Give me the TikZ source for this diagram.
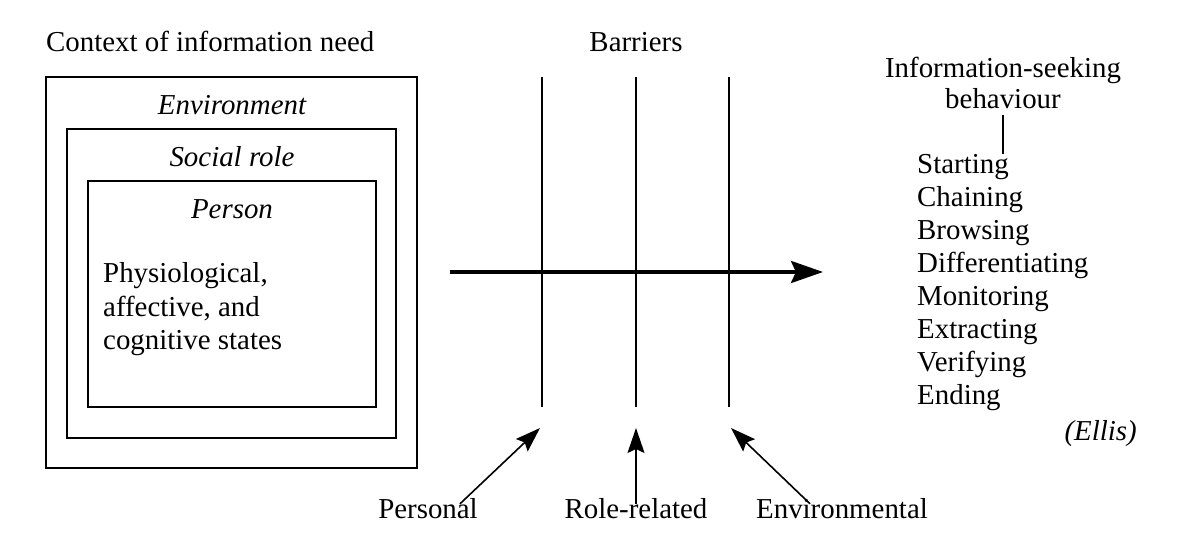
\documentclass[tikz,border=0pt]{standalone}
\usepackage{fontspec}
\setmainfont{Liberation Serif}
\usetikzlibrary{arrows.meta}
\newcommand{\figfont}{\rmfamily\fontsize{29}{34}\selectfont}
\tikzstyle{frame} = [draw=black, line width=1.6bp]
\tikzstyle{txt} = [inner sep=0pt, font=\figfont, text height=20bp, text depth=6bp]
\tikzstyle{boxtitle} = [txt, font=\figfont\itshape]
\tikzstyle{barrier} = [line width=1.6bp]
\tikzstyle{arrow} = [line width=1.6bp, -{Stealth[length=25bp, width=17bp, inset=4bp]}]
\tikzstyle{bigarrow} = [line width=3.6bp, -{Stealth[length=32bp, width=22bp, inset=5bp]}]

\begin{document}
\begin{tikzpicture}[x=1bp, y=-1bp]
        \useasboundingbox (0,0) rectangle (1183,558);

        % context of information need
        \node (context) [txt, anchor=west] at (46,45) {Context of information need};
        \draw [frame] (46,77) rectangle (417,468);
        \draw [frame] (67,129) rectangle (396,438);
        \draw [frame] (88,181) rectangle (376,407);
        \node (environment) [boxtitle] at (232,108) {Environment};
        \node (socialrole) [boxtitle] at (232,160) {Social role};
        \node (person) [boxtitle] at (232,212) {Person};
        \node (states) [inner sep=0pt, font=\figfont, anchor=north west, align=left] at (103,262)
              {Physiological,\\affective, and\\cognitive states};

        % barriers
        \node (barriers) [txt] at (636,45) {Barriers};
        \coordinate (b1top) at (542,77);  \coordinate (b1bot) at (542,407);
        \coordinate (b2top) at (636,77);  \coordinate (b2bot) at (636,407);
        \coordinate (b3top) at (729,77);  \coordinate (b3bot) at (729,407);
        \draw [barrier] (b1top) -- (b1bot);
        \draw [barrier] (b2top) -- (b2bot);
        \draw [barrier] (b3top) -- (b3bot);

        \coordinate (flowin) at (450,272);
        \coordinate (flowout) at (823,272);
        \draw [bigarrow] (flowin) -- (flowout);

        \node (personal) [txt] at (428,511) {Personal};
        \node (rolerelated) [txt] at (636,511) {Role-related};
        \node (environmental) [txt] at (842,511) {Environmental};
        \coordinate (b1hit) at (540,428);
        \coordinate (b2hit) at (636,428);
        \coordinate (b3hit) at (731,428);
        \draw [arrow] ([xshift=32bp, yshift=-6bp]personal.north) -- (b1hit);
        \draw [arrow] ([yshift=-6bp]rolerelated.north) -- (b2hit);
        \draw [arrow] ([xshift=-32bp, yshift=-6bp]environmental.north) -- (b3hit);

        % information-seeking behaviour
        \node (seeking) [inner sep=0pt, font=\rmfamily\fontsize{29}{32}\selectfont, align=center] at (1003,83)
              {Information-seeking\\behaviour};
        \foreach \step [count=\i] in {Starting, Chaining, Browsing, Differentiating,
                                      Monitoring, Extracting, Verifying, Ending}
            \node (s\i) [txt, anchor=west] at (917,134+32.9*\i) {\step};
        \draw [line width=1.2bp] (seeking.south) ++(0,6) coordinate (seektop) -- (seektop |- s1.north);
        \node (ellis) [boxtitle, anchor=east] at (1137,433) {(Ellis)};

    \end{tikzpicture}
\end{document}
